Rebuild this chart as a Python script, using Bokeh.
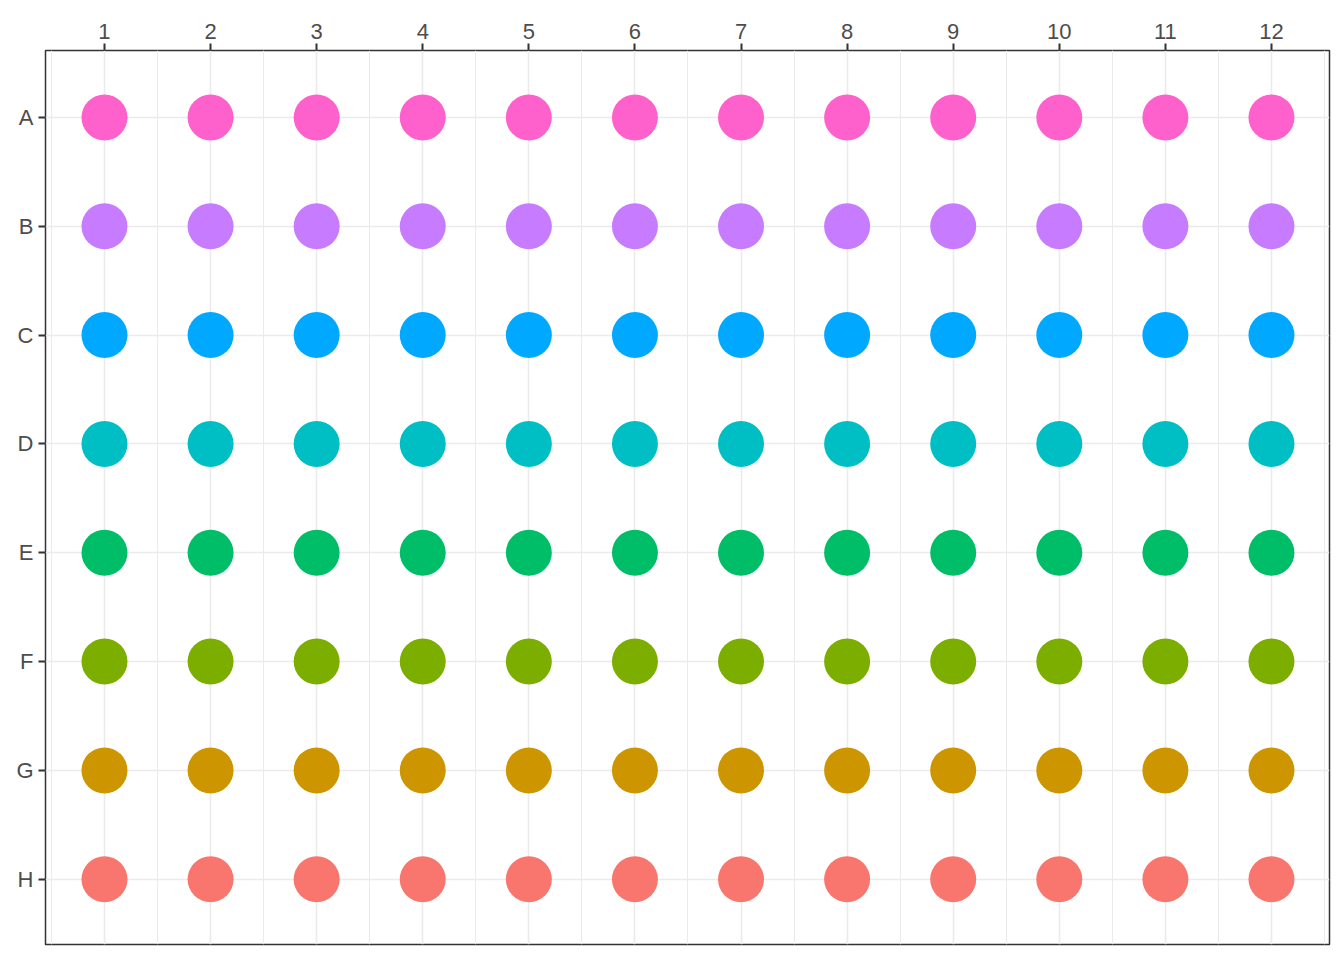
from bokeh.plotting import figure
from bokeh.models import ColumnDataSource, Range1d, FixedTicker
from bokeh.embed import file_html
from bokeh.resources import INLINE

# Data
rows = ["A", "B", "C", "D", "E", "F", "G", "H"]
cols = [1, 2, 3, 4, 5, 6, 7, 8, 9, 10, 11, 12]
row_colors = ["#FF61CC", "#C77CFF", "#00A9FF", "#00BFC4",
              "#00BE67", "#7CAE00", "#CD9600", "#F8766D"]

xs, ys, cs = [], [], []
for i, r in enumerate(rows):
    for c in cols:
        xs.append(c)
        ys.append(i + 1)
        cs.append(row_colors[i])
src = ColumnDataSource(dict(x=xs, y=ys, color=cs))

p = figure(width=1336, height=952, output_backend="svg", toolbar_location=None,
           x_range=Range1d(0.444, 12.547), y_range=Range1d(8.6, 0.385),
           x_axis_location="above",
           min_border_left=45, min_border_right=7, min_border_top=50, min_border_bottom=8)

p.background_fill_color = "white"
p.border_fill_color = "white"
p.outline_line_color = "#333333"
p.outline_line_width = 1.5

p.xaxis.ticker = FixedTicker(ticks=cols, minor_ticks=[c - 0.5 for c in cols] + [12.5])
p.yaxis.ticker = FixedTicker(ticks=list(range(1, 9)), minor_ticks=[])
p.yaxis.major_label_overrides = {i + 1: r for i, r in enumerate(rows)}

for ax in (p.xaxis[0], p.yaxis[0]):
    ax.axis_line_color = None
    ax.major_tick_out = 7
    ax.major_tick_in = 0
    ax.minor_tick_out = 0
    ax.minor_tick_in = 0
    ax.major_tick_line_color = "#333333"
    ax.major_tick_line_width = 2
    ax.major_label_text_font = "Liberation Sans"
    ax.major_label_text_font_size = "22px"
    ax.major_label_text_color = "#4D4D4D"
    ax.major_label_standoff = 5

p.xgrid.grid_line_color = "#EBEBEB"
p.xgrid.grid_line_width = 1.6
p.xgrid.minor_grid_line_color = "#EBEBEB"
p.xgrid.minor_grid_line_width = 1
p.ygrid.grid_line_color = "#EBEBEB"
p.ygrid.grid_line_width = 1.6

p.scatter("x", "y", source=src, size=46, fill_color="color", line_color=None)

open("out.html", "w").write(file_html(p, INLINE))
